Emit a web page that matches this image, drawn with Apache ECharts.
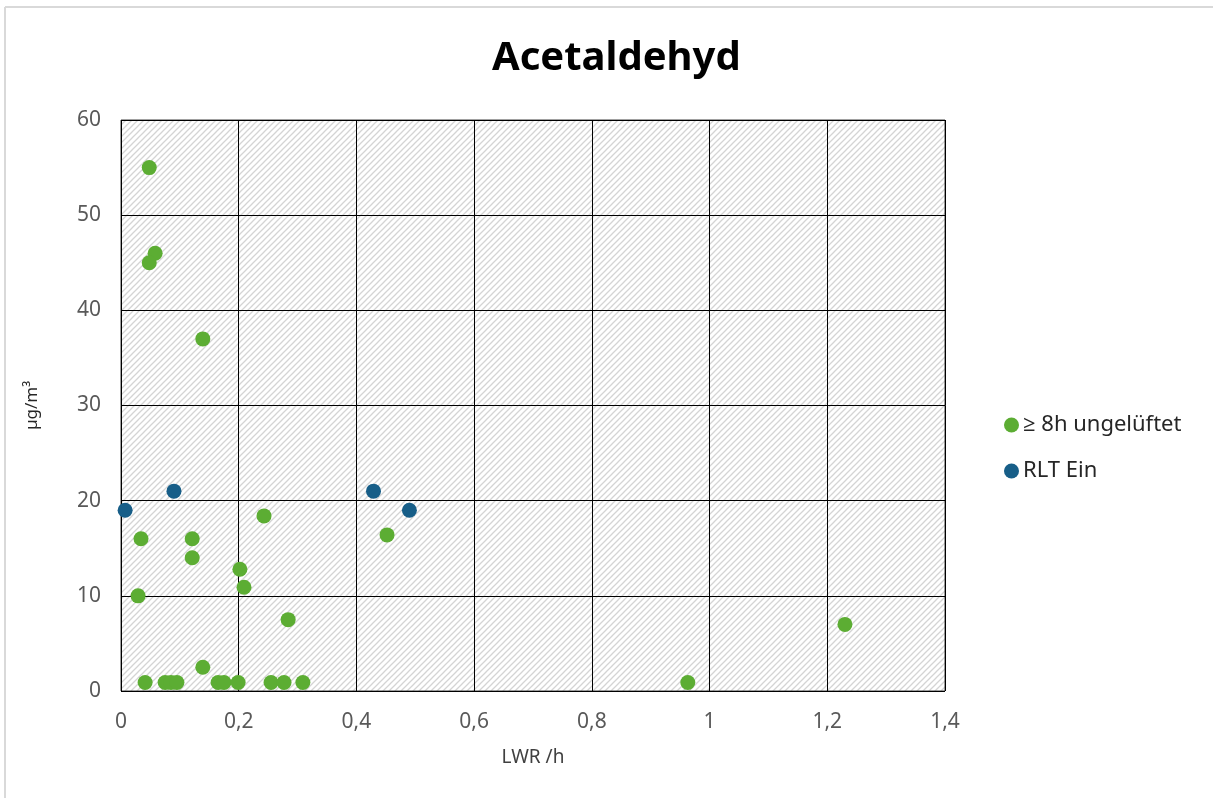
<!DOCTYPE html>
<html>
<head>
<meta charset="utf-8">
<script src="https://cdn.jsdelivr.net/npm/echarts@6/dist/echarts.min.js"></script>
<style>
  html, body { margin: 0; padding: 0; background: #fff; }
  #chart { width: 1213px; height: 798px; }
</style>
</head>
<body>
<div id="chart"></div>
<script>
// Air exchange rate (LWR, 1/h) vs. acetaldehyde concentration (µg/m³)
const titleText = 'Acetaldehyd';
const xAxisName = 'LWR /h';
const yAxisName = 'µg/m³';
const seriesNames = ['≥ 8h ungelüftet', 'RLT Ein'];

// ≥ 8h ungelüftet
const unventX = [0.048, 0.058, 0.048, 0.139, 0.243, 0.034, 0.121, 0.121, 0.202, 0.209, 0.029, 0.452, 0.284, 1.23, 0.139,
                 0.041, 0.075, 0.085, 0.095, 0.165, 0.175, 0.199, 0.255, 0.277, 0.309, 0.963];
const unventY = [55, 46, 45, 37, 18.4, 16, 16, 14, 12.8, 10.9, 10, 16.4, 7.5, 7, 2.5,
                 0.9, 0.9, 0.9, 0.9, 0.9, 0.9, 0.9, 0.9, 0.9, 0.9, 0.9];

// RLT Ein
const rltX = [0.007, 0.09, 0.429, 0.49];
const rltY = [19, 21, 21, 19];

const pair = (xs, ys) => xs.map((x, i) => [x, ys[i]]);

// diagonal hatch fill for the plot area
function hatchPattern() {
  const s = 6;
  const c = document.createElement('canvas');
  c.width = s; c.height = s;
  const g = c.getContext('2d');
  g.fillStyle = '#ffffff';
  g.fillRect(0, 0, s, s);
  g.strokeStyle = '#d4d4d4';
  g.lineWidth = 1.3;
  g.beginPath();
  g.moveTo(-1, s + 1); g.lineTo(s + 1, -1);
  g.moveTo(-1, 1); g.lineTo(1, -1);
  g.moveTo(s - 1, s + 1); g.lineTo(s + 1, s - 1);
  g.stroke();
  return c;
}

const font = '"Noto Sans", "Open Sans", sans-serif';
const commaFmt = v => String(+v.toFixed(2)).replace('.', ',');
const frameStyle = { stroke: '#d9d9d9', lineWidth: 2 };

const chart = echarts.init(document.getElementById('chart'), null, { renderer: 'canvas' });
chart.setOption({
  backgroundColor: '#ffffff',
  animation: false,
  // outer chart frame (top and left edges)
  graphic: [
    { type: 'line', silent: true, shape: { x1: 5, y1: 7, x2: 1213, y2: 7 }, style: frameStyle },
    { type: 'line', silent: true, shape: { x1: 5, y1: 7, x2: 5, y2: 798 }, style: frameStyle }
  ],
  title: {
    text: titleText, left: 487, top: 34,
    textStyle: { fontFamily: font, fontWeight: 'bold', fontSize: 40, color: '#000' }
  },
  legend: {
    orient: 'vertical', left: 999, top: 409,
    itemGap: 24, itemWidth: 15, itemHeight: 15,
    icon: 'circle',
    textStyle: { fontFamily: font, fontSize: 22, color: '#262626', padding: [0, 0, 0, -1] },
    data: seriesNames
  },
  grid: {
    left: 121, top: 120, right: 268, bottom: 107,
    show: true,
    backgroundColor: { image: hatchPattern(), repeat: 'repeat' },
    borderColor: '#404040', borderWidth: 1
  },
  xAxis: {
    type: 'value', min: 0, max: 1.4, interval: 0.2,
    name: xAxisName, nameLocation: 'middle', nameGap: 57,
    nameTextStyle: { fontFamily: font, fontSize: 19, color: '#404040' },
    axisLine: { show: false }, axisTick: { show: false },
    axisLabel: { fontFamily: font, fontSize: 21, color: '#595959', margin: 21, formatter: commaFmt },
    splitLine: { show: true, lineStyle: { color: '#000', width: 1 } }
  },
  yAxis: {
    type: 'value', min: 0, max: 60, interval: 10,
    name: yAxisName, nameLocation: 'middle', nameGap: 80, nameRotate: 90,
    nameTextStyle: { fontFamily: font, fontSize: 17, color: '#262626' },
    axisLine: { show: false }, axisTick: { show: false },
    axisLabel: { fontFamily: font, fontSize: 21, color: '#595959', margin: 20 },
    splitLine: { show: true, lineStyle: { color: '#000', width: 1 } }
  },
  series: [
    {
      name: seriesNames[0], type: 'scatter', symbol: 'circle', symbolSize: 15,
      itemStyle: { color: '#5cad33', opacity: 1 },
      data: pair(unventX, unventY)
    },
    {
      name: seriesNames[1], type: 'scatter', symbol: 'circle', symbolSize: 15,
      itemStyle: { color: '#175e88', opacity: 1 },
      data: pair(rltX, rltY)
    }
  ]
});
</script>
</body>
</html>
